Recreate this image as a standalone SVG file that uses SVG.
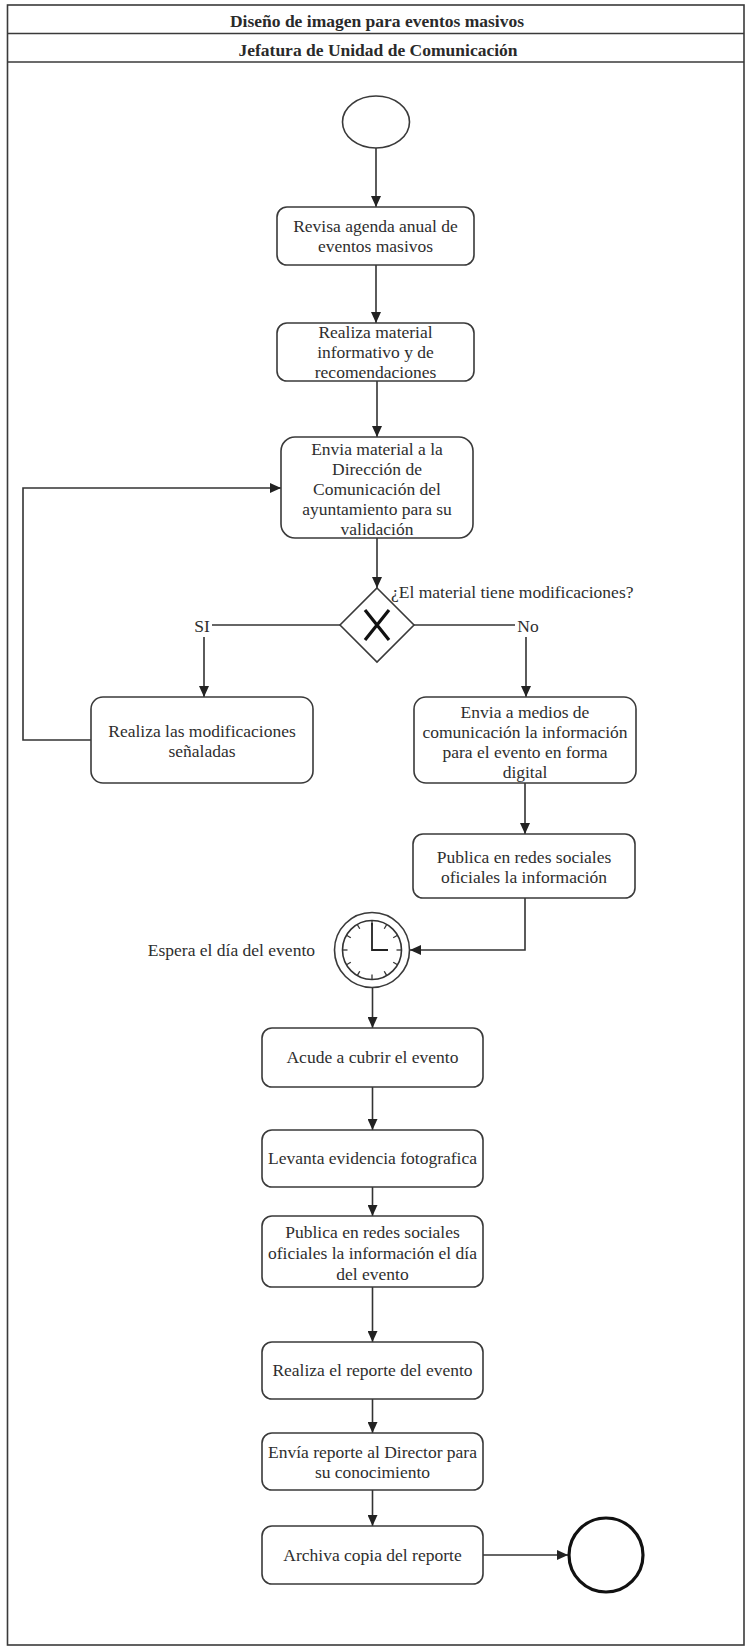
<svg xmlns="http://www.w3.org/2000/svg" width="751" height="1649" viewBox="0 0 751 1649" font-family="'Liberation Serif', 'DejaVu Serif', serif">
<style>
.frame{fill:none;stroke:#3a3a3a;stroke-width:1.6}
.box{fill:#fff;stroke:#3a3a3a;stroke-width:1.6}
text{font-family:'Liberation Serif','DejaVu Serif',serif}
.t{font-size:17.5px;fill:#2e2e2e;text-anchor:middle}
.ts{font-size:17.5px;fill:#2e2e2e}
.h{font-size:17.5px;font-weight:bold;fill:#2a2a2a;text-anchor:middle}
.c{fill:none;stroke:#333;stroke-width:1.6}
.ca{fill:none;stroke:#333;stroke-width:1.6;marker-end:url(#arr)}
</style>
<defs>
<marker id="arr" markerWidth="11" markerHeight="10" refX="11" refY="5" orient="auto" markerUnits="userSpaceOnUse">
<path d="M0,0 L11,5 L0,10 z" fill="#222"/>
</marker>
</defs>
<rect width="751" height="1649" fill="#fff"/>
<g id="frame">
<rect class="frame" x="7.5" y="5" width="736.5" height="1640"/>
<line class="frame" x1="7.5" y1="33.5" x2="744" y2="33.5"/>
<line class="frame" x1="7.5" y1="62" x2="744" y2="62"/>
<text class="h" x="377" y="27">Diseño de imagen para eventos masivos</text>
<text class="h" x="378" y="55.5">Jefatura de Unidad de Comunicación</text>
</g>
<g id="connectors">
<line class="ca" x1="376" y1="148" x2="376" y2="207"/>
<line class="ca" x1="376" y1="265" x2="376" y2="323"/>
<line class="ca" x1="377" y1="381" x2="377" y2="437"/>
<line class="ca" x1="377" y1="538" x2="377" y2="588"/>
<line class="c" x1="341" y1="625" x2="212" y2="625"/>
<line class="c" x1="413" y1="625" x2="515" y2="625"/>
<line class="ca" x1="204" y1="637" x2="204" y2="697"/>
<line class="ca" x1="526" y1="637" x2="526" y2="697"/>
<polyline class="ca" points="91,740 23,740 23,488 281,488"/>
<line class="ca" x1="525" y1="783" x2="525" y2="834"/>
<polyline class="ca" points="525,898 525,950 410,950"/>
<line class="ca" x1="372.5" y1="988" x2="372.5" y2="1028"/>
<line class="ca" x1="372.5" y1="1087" x2="372.5" y2="1130"/>
<line class="ca" x1="372.5" y1="1187" x2="372.5" y2="1216"/>
<line class="ca" x1="372.5" y1="1287" x2="372.5" y2="1342"/>
<line class="ca" x1="372.5" y1="1399" x2="372.5" y2="1433"/>
<line class="ca" x1="372.5" y1="1490" x2="372.5" y2="1526"/>
<line class="ca" x1="483" y1="1555" x2="568" y2="1555"/>
</g>
<g id="start">
<ellipse class="box" cx="376" cy="122" rx="33.5" ry="26"/>
</g>
<g id="n1">
<rect class="box" x="277" y="207" width="197" height="58" rx="10"/>
<text class="t" x="375.5" y="232">Revisa agenda anual de</text>
<text class="t" x="375.5" y="252">eventos masivos</text>
</g>
<g id="n2">
<rect class="box" x="277" y="323" width="197" height="58" rx="10"/>
<text class="t" x="375.5" y="338">Realiza material</text>
<text class="t" x="375.5" y="358">informativo y de</text>
<text class="t" x="375.5" y="378">recomendaciones</text>
</g>
<g id="n3">
<rect class="box" x="281" y="437" width="192" height="101" rx="14"/>
<text class="t" x="377" y="455">Envia material a la</text>
<text class="t" x="377" y="475">Dirección de</text>
<text class="t" x="377" y="495">Comunicación del</text>
<text class="t" x="377" y="515">ayuntamiento para su</text>
<text class="t" x="377" y="535">validación</text>
</g>
<g id="decision">
<polygon class="box" points="377,588 414,625 377,662 340,625"/>
<path d="M365,610 L389,640 M389,610 L365,640" stroke="#111" stroke-width="3.2" fill="none"/>
<text class="ts" x="391" y="598">¿El material tiene modificaciones?</text>
<text class="t" x="202" y="632">SI</text>
<text class="t" x="528" y="632">No</text>
</g>
<g id="n4">
<rect class="box" x="91" y="697" width="222" height="86" rx="12"/>
<text class="t" x="202" y="737">Realiza las modificaciones</text>
<text class="t" x="202" y="757">señaladas</text>
</g>
<g id="n5">
<rect class="box" x="414" y="697" width="222" height="86" rx="12"/>
<text class="t" x="525" y="718">Envia a medios de</text>
<text class="t" x="525" y="738">comunicación la información</text>
<text class="t" x="525" y="758">para el evento en forma</text>
<text class="t" x="525" y="778">digital</text>
</g>
<g id="n6">
<rect class="box" x="413" y="834" width="222" height="64" rx="10"/>
<text class="t" x="524" y="863">Publica en redes sociales</text>
<text class="t" x="524" y="883">oficiales la información</text>
</g>
<g id="timer">
<circle class="box" cx="372" cy="950" r="37.5"/>
<circle class="c" cx="372" cy="950" r="29.5"/>
<g stroke="#333" stroke-width="1.3">
<line x1="372" y1="920.5" x2="372" y2="925.5"/>
<line x1="386.75" y1="924.45" x2="384.25" y2="928.78"/>
<line x1="397.55" y1="935.25" x2="393.22" y2="937.75"/>
<line x1="401.5" y1="950" x2="396.5" y2="950"/>
<line x1="397.55" y1="964.75" x2="393.22" y2="962.25"/>
<line x1="386.75" y1="975.55" x2="384.25" y2="971.22"/>
<line x1="372" y1="979.5" x2="372" y2="974.5"/>
<line x1="357.25" y1="975.55" x2="359.75" y2="971.22"/>
<line x1="346.45" y1="964.75" x2="350.78" y2="962.25"/>
<line x1="342.5" y1="950" x2="347.5" y2="950"/>
<line x1="346.45" y1="935.25" x2="350.78" y2="937.75"/>
<line x1="357.25" y1="924.45" x2="359.75" y2="928.78"/>
</g>
<path d="M372,923 L372,950 L388,950" stroke="#222" stroke-width="1.8" fill="none"/>
<text class="ts" x="315" y="956" text-anchor="end">Espera el día del evento</text>
</g>
<g id="n7">
<rect class="box" x="262" y="1028" width="221" height="59" rx="10"/>
<text class="t" x="372.5" y="1063">Acude a cubrir el evento</text>
</g>
<g id="n8">
<rect class="box" x="262" y="1130" width="221" height="57" rx="10"/>
<text class="t" x="372.5" y="1164">Levanta evidencia fotografica</text>
</g>
<g id="n9">
<rect class="box" x="262" y="1216" width="221" height="71" rx="10"/>
<text class="t" x="372.5" y="1238">Publica en redes sociales</text>
<text class="t" x="372.5" y="1259">oficiales la información el día</text>
<text class="t" x="372.5" y="1280">del evento</text>
</g>
<g id="n10">
<rect class="box" x="262" y="1342" width="221" height="57" rx="10"/>
<text class="t" x="372.5" y="1376">Realiza el reporte del evento</text>
</g>
<g id="n11">
<rect class="box" x="262" y="1433" width="221" height="57" rx="10"/>
<text class="t" x="372.5" y="1458">Envía reporte al Director para</text>
<text class="t" x="372.5" y="1478">su conocimiento</text>
</g>
<g id="n12">
<rect class="box" x="262" y="1526" width="221" height="58" rx="10"/>
<text class="t" x="372.5" y="1561">Archiva copia del reporte</text>
</g>
<g id="end">
<circle cx="606" cy="1555" r="37" fill="#fff" stroke="#111" stroke-width="3.2"/>
</g>
</svg>
